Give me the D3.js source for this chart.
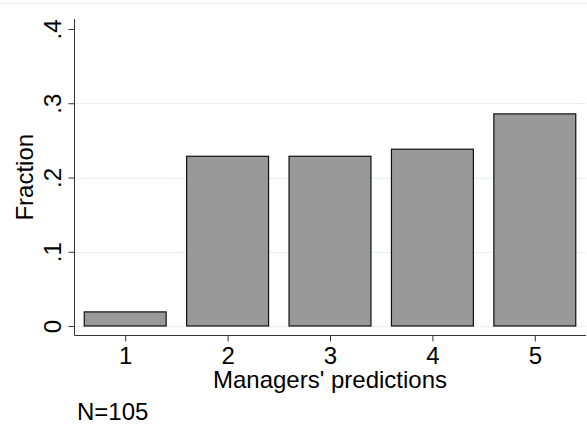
<!DOCTYPE html>
<html>
<head>
<meta charset="utf-8">
<script src="https://cdn.jsdelivr.net/npm/d3@7"></script>
<style>
  html, body { margin: 0; padding: 0; background: #fff; }
  text { font-family: "Liberation Sans", Arial, Helvetica, sans-serif; fill: #000; }
</style>
</head>
<body>
<svg id="chart" width="587" height="426"></svg>
<script>
// Managers' predictions histogram (fractions, N=105)
var categories = [1, 2, 3, 4, 5];
var fractions = [0.019, 0.2286, 0.2286, 0.2381, 0.2857];
var yTicks = [0, 0.1, 0.2, 0.3, 0.4];
var yTickLabels = ["0", ".1", ".2", ".3", ".4"];
var gridValues = [0, 0.1, 0.2, 0.3];
var noteText = "N=105";

var W = 587, H = 426;
var fontSize = 24;
var barColor = "#999999";
var gridColor = "#e9f0f1";

var svg = d3.select('#chart');

// faint frame line at top of graph region
svg.append('line')
    .attr('x1', 0).attr('x2', W)
    .attr('y1', 3.5).attr('y2', 3.5)
    .attr('stroke', '#eef2f3')
    .attr('stroke-width', 1);

var x = d3.scaleLinear().domain([0.5, 5.5]).range([74, 586]);
var y = d3.scaleLinear().domain([0, 0.4]).range([326, 29]);
var axisX = 74.5, axisY = 335.5;

// gridlines
svg.append('g')
    .selectAll('line')
    .data(gridValues)
    .enter()
    .append('line')
    .attr('x1', axisX).attr('x2', 586)
    .attr('y1', function(d){ return Math.round(y(d)) + 0.5; })
    .attr('y2', function(d){ return Math.round(y(d)) + 0.5; })
    .attr('stroke', gridColor)
    .attr('stroke-width', 1);

// bars
var barW = 0.8;
svg.append('g')
    .selectAll('rect')
    .data(categories)
    .enter()
    .append('rect')
    .attr('x', function(d){ return x(d - barW/2); })
    .attr('width', function(d){ return x(d + barW/2) - x(d - barW/2); })
    .attr('y', function(d,i){ return y(fractions[i]); })
    .attr('height', function(d,i){ return y(0) - y(fractions[i]); })
    .attr('fill', barColor)
    .attr('stroke', '#111')
    .attr('stroke-width', 1.2);

// y axis
var yAxis = d3.axisLeft(y)
    .tickValues(yTicks)
    .tickSize(6)
    .tickFormat(function(d,i){ return yTickLabels[i]; });
var gy = svg.append('g')
    .attr('transform', 'translate(' + axisX + ',0)')
    .call(yAxis);
gy.select('.domain').remove();
gy.selectAll('.tick line').attr('stroke', '#333');
gy.selectAll('.tick text')
    .attr('font-size', fontSize)
    .attr('font-family', null)
    .attr('text-anchor', 'middle')
    .attr('x', null).attr('dy', null)
    .attr('transform', 'translate(-14,0) rotate(-90)')
    .attr('y', 0);
svg.append('line')
    .attr('x1', axisX).attr('x2', axisX)
    .attr('y1', 19).attr('y2', axisY)
    .attr('stroke', '#333');

// x axis
var xAxis = d3.axisBottom(x)
    .tickValues(categories)
    .tickSize(6)
    .tickFormat(d3.format('d'));
var gx = svg.append('g')
    .attr('transform', 'translate(0,' + axisY + ')')
    .call(xAxis);
gx.select('.domain').remove();
gx.selectAll('.tick line').attr('stroke', '#333');
gx.selectAll('.tick text')
    .attr('font-size', fontSize)
    .attr('font-family', null)
    .attr('dy', null)
    .attr('y', 28);
svg.append('line')
    .attr('x1', axisX).attr('x2', 586)
    .attr('y1', axisY).attr('y2', axisY)
    .attr('stroke', '#333');

// axis titles
svg.append('text')
    .attr('transform', 'translate(33,' + ((19 + axisY)/2) + ') rotate(-90)')
    .attr('text-anchor', 'middle')
    .attr('font-size', fontSize)
    .text('Fraction');

svg.append('text')
    .attr('x', (74 + 586)/2)
    .attr('y', 388)
    .attr('text-anchor', 'middle')
    .attr('font-size', fontSize)
    .text("Managers' predictions");

// note
svg.append('text')
    .attr('x', 77)
    .attr('y', 420)
    .attr('font-size', fontSize)
    .text(noteText);
</script>
</body>
</html>
